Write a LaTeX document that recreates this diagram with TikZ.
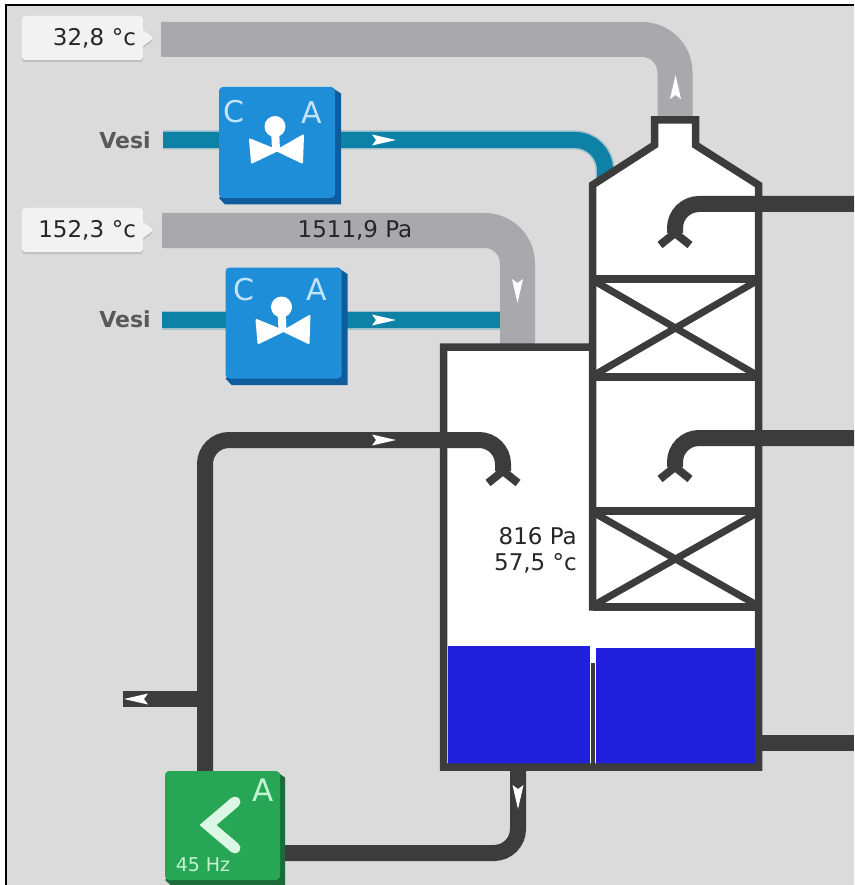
\documentclass[tikz,border=0pt]{standalone}
\usepackage{fontspec}
\setmainfont{DejaVu Sans}
\usetikzlibrary{shadows,shapes.callouts}
\definecolor{panelgrey}{HTML}{DBDBDB}
\definecolor{gasgrey}{HTML}{A9A9AD}
\definecolor{waterblue}{HTML}{0E81A6}
\definecolor{wallgrey}{HTML}{3C3C3C}
\definecolor{liquidblue}{HTML}{2020DC}
\definecolor{valveblue}{HTML}{1F8ED8}
\definecolor{valvedark}{HTML}{0F5C9C}
\definecolor{pumpgreen}{HTML}{27A655}
\definecolor{pumpdark}{HTML}{1C6B38}
\definecolor{lettergreen}{HTML}{C4F2D2}
\definecolor{letterblue}{HTML}{C2E4F8}
\tikzset{
  gaspipe/.style={draw=gasgrey, line width=35pt, rounded corners=33pt},
  waterpipe/.style={draw=waterblue, line width=16pt, rounded corners=30pt,
    preaction={draw=waterblue!30!panelgrey, line width=19pt}},
  drainpipe/.style={draw=wallgrey, line width=16pt, rounded corners=24pt},
  wallline/.style={draw=wallgrey, line width=7.5pt},
  valvebox/.style={fill=valveblue, rounded corners=4pt, minimum width=116pt, minimum height=111pt},
  pumpbox/.style={fill=pumpgreen, rounded corners=4pt, minimum width=115pt, minimum height=109pt},
  readtag/.style={rectangle callout, callout relative pointer={(11pt,0pt)}, callout pointer width=16pt,
    fill=white!95!black, rounded corners=3pt, minimum height=44pt, text width=107pt, inner xsep=7pt,
    align=right, font=\fontsize{23}{26}\selectfont, text=black!85,
    general shadow={fill=black!25, shadow xshift=0pt, shadow yshift=-2pt}},
  readout/.style={font=\fontsize{23}{26}\selectfont, text=black!85, inner sep=0pt},
  sourcename/.style={font=\bfseries\fontsize{22}{24}\selectfont, text=black!65, inner sep=0pt},
  valveletter/.style={font=\fontsize{30}{32}\selectfont, text=letterblue, inner sep=0pt},
  pumpletter/.style={font=\fontsize{31}{32}\selectfont, text=lettergreen, inner sep=0pt},
  flowtip/.pic={\fill[white] (12,0) -- (-12,5.5) -- (-8,0) -- (-12,-5.5) -- cycle;},
  sprayfork/.pic={\draw[wallgrey, line width=8pt] (-15,12) -- (0,0) -- (15,12);},
  valveedge/.pic={\fill[valvedark] (54,-55.5) -- (64,-49) -- (64,62) -- (-52,62) -- (-58,55.5) -- cycle;},
  pumpedge/.pic={\fill[pumpdark] (53,-54.5) -- (62.5,-48) -- (62.5,59.5) -- (-52,59.5) -- (-57.5,54.5) -- cycle;},
  valveicon/.pic={
    \filldraw[white, line width=2pt, line join=round] (-27,-3) -- (-25,20) -- (0,8) -- (25,20) -- (26,-7) -- (0,8) -- cycle;
    \fill[white] (-2,-16) circle [radius=10.5];
    \draw[white, line width=8pt] (-2,-16) -- (-1,8);
  }
}
\begin{document}
\begin{tikzpicture}[x=1pt,y=-1pt]
    \useasboundingbox (0,0) rectangle (854,885);
    \fill[white] (0,0) rectangle (854,885);
    \fill[panelgrey] (6,5) rectangle (854,885);
    \draw[black, line width=2pt] (6,885) -- (6,5) -- (854,5);
    % gas and water lines, behind the column
    \coordinate (ventstart) at (161,39.5);
    \coordinate (ventend) at (675,117);
    \coordinate (steamstart) at (162,230.5);
    \coordinate (steamend) at (517.5,346);
    \coordinate (watertopin) at (163,140);
    \coordinate (watertopend) at (605,180);
    \coordinate (waterlowin) at (162,320);
    \coordinate (waterlowend) at (500,320);
    \draw[gaspipe] (ventstart) -| (ventend);
    \draw[gaspipe] (steamstart) -| (steamend);
    \draw[waterpipe] (watertopin) -| (watertopend);
    \draw[waterpipe] (waterlowin) -- (waterlowend);
    % readouts and valves
    \node[readtag] (tagvent) at (82.5,38) {32,8 °c};
    \node[readtag] (tagsteam) at (82.5,230) {152,3 °c};
    \pic at (277,142.5) {valveedge};
    \pic at (283.5,323) {valveedge};
    \node[valvebox] (valvetop) at (277,142.5) {};
    \node[valvebox] (valvelow) at (283.5,323) {};
    \node[sourcename] (vesitop) at (125,140) {Vesi};
    \node[sourcename] (vesilow) at (125,319) {Vesi};
    \pic at (valvetop) {valveicon};
    \pic at (valvelow) {valveicon};
    \node[valveletter] (ctop) at ([shift={(-43,-30.5)}]valvetop) {C};
    \node[valveletter] (atop) at ([shift={(35,-30)}]valvetop) {A};
    \node[valveletter] (clow) at ([shift={(-39.5,-33)}]valvelow) {C};
    \node[valveletter] (alow) at ([shift={(33.5,-33)}]valvelow) {A};
    \node[readout] (steampress) at (355,230) {1511,9 Pa};
    % column body
    \fill[white] (592.5,185) -- (654.5,145) -- (654.5,120) -- (695.5,120) -- (695.5,145) -- (758.5,185)
      -- (758.5,767) -- (443.5,767) -- (443.5,347) -- (592.5,347) -- cycle;
    \fill[liquidblue] (448,646) rectangle (590,764); % sump left
    \fill[liquidblue] (596,648) rectangle (755,764); % sump right
    \draw[wallline] (592.5,610.5) -- (592.5,185) -- (654.5,145) -- (654.5,120) -- (695.5,120) -- (695.5,145)
      -- (758.5,185) -- (758.5,767) -- (443.5,767) -- (443.5,347) -- (592.5,347);
    \draw[wallgrey, line width=4pt] (593,663) -- (593,767); % baffle
    % packing
    \foreach \ytop/\ybot in {279/377,511/607} {
      \draw[wallline] (592.5,\ytop) -- (758.5,\ytop);
      \draw[wallline] (592.5,\ybot) -- (758.5,\ybot);
      \draw[wallgrey, line width=7pt] (596,\ytop+3) -- (755,\ybot-3);
      \draw[wallgrey, line width=7pt] (755,\ytop+3) -- (596,\ybot-3);
    }
    % dark lines
    \coordinate (refluxtop) at (854,204);
    \coordinate (spraytop) at (675,233);
    \coordinate (refluxmid) at (854,438);
    \coordinate (spraymid) at (675,467);
    \coordinate (pumpin) at (205,771);
    \coordinate (sprayfeed) at (503,471);
    \coordinate (bleedend) at (123,699);
    \coordinate (bleedtee) at (205,699);
    \coordinate (sumpout) at (518,767);
    \coordinate (pumpout) at (283,853);
    \coordinate (liquidout) at (854,743);
    \coordinate (walloff) at (758.5,743);
    \draw[drainpipe] (refluxtop) -| (spraytop);
    \draw[drainpipe] (refluxmid) -| (spraymid);
    \draw[drainpipe] (pumpin) |- (sprayfeed |- 0,440) -- (sprayfeed);
    \draw[drainpipe] (bleedend) -- (bleedtee);
    \draw[drainpipe] (sumpout) |- (pumpout);
    \draw[drainpipe] (walloff) -- (liquidout);
    \pic at (spraytop) {sprayfork};
    \pic at (spraymid) {sprayfork};
    \pic at (sprayfeed) {sprayfork};
    % pump
    \pic at (222.5,825.5) {pumpedge};
    \node[pumpbox] (pump) at (222.5,825.5) {};
    \draw[lettergreen!60!white, line width=11pt, line cap=round] (235,802) -- (208,825) -- (235,848);
    \node[pumpletter] (apump) at (263,790) {A};
    \node[font=\fontsize{19}{20}\selectfont, text=lettergreen, inner sep=0pt] (hzpump) at (203,865) {45 Hz};
    \node[readout, align=right] (sumpread) at (535.5,550) {816 Pa\\57,5 °c};
    % flow marks
    \pic[rotate=90] at (675.5,87) {flowtip};
    \pic at (384,140) {flowtip};
    \pic[rotate=-90] at (517.5,291) {flowtip};
    \pic at (384,320) {flowtip};
    \pic at (384,440) {flowtip};
    \pic[rotate=180] at (136,699) {flowtip};
    \pic[rotate=-90] at (518,797) {flowtip};
  \end{tikzpicture}
\end{document}
